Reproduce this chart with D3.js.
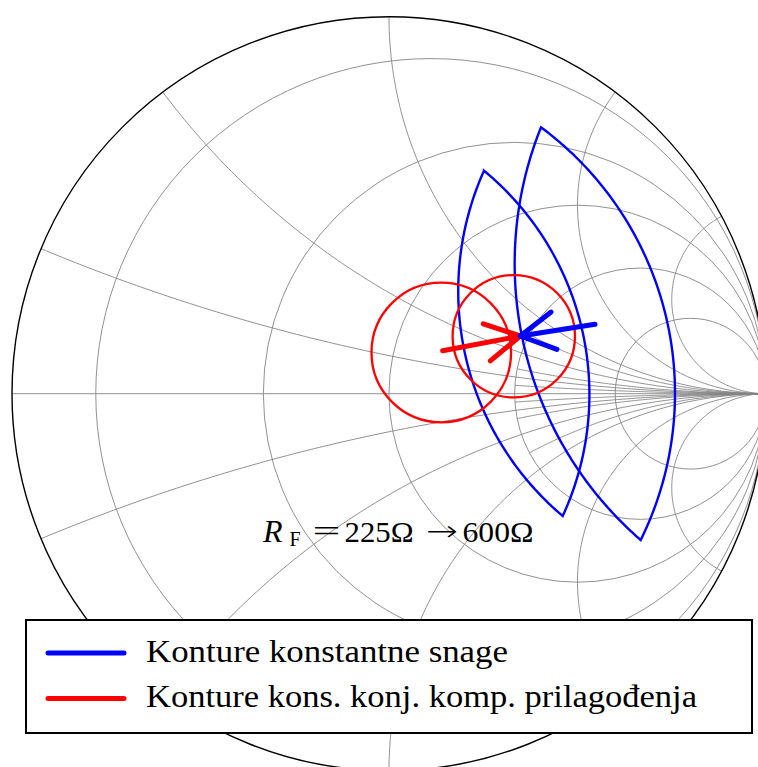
<!DOCTYPE html>
<html>
<head>
<meta charset="utf-8">
<script src="https://cdn.jsdelivr.net/npm/d3@7"></script>
<style>
  body { margin: 0; background: #fff; }
  svg { display: block; }
</style>
</head>
<body>
<svg id="chart" width="758" height="767"></svg>
<script>
// ---- Smith chart grid (normalized impedance z = r + jx) ----
const resistanceTicks = [0.125, 0.5, 1, 2, 4];
const reactanceTicks = [0.2, 0.5, 1, 2, 4];
// finer reactance lines, drawn only outside the r = 2 circle
const minorReactanceTicks = [0.1, 0.3, 0.75];
const minorReactanceFrom = 2;

// ---- constant power contours: each is a lens of two circular arcs ----
// points are reflection coefficients [Re Γ, Im Γ]
const powerTop    = [[0.252, 0.5915], [0.4032, 0.7066]];
const powerBottom = [[0.4607, -0.3244], [0.6676, -0.3881]];
const powerLeft   = [[0.1838, 0.2573], [0.3369, 0.2618]];
const powerRight  = [[0.5313, 0.0186], [0.7586, 0.0053]];

// ---- constant conjugate-match circles ----
const matchCenters = [[0.1387, 0.1093], [0.331, 0.1523]];
const matchRadii   = [0.1851, 0.1623];

// ---- shift of the optimum as R_F goes 225 Ω -> 600 Ω ----
const matchArrow = [[0.1424, 0.1141], [0.3483, 0.1531]];
const powerArrow = [[0.5464, 0.1841], [0.3483, 0.1531]];

const legendLabels = ["Konture konstantne snage", "Konture kons. konj. komp. prilagođenja"];
const legendColors = ["#0000ff", "#ff0000"];

// ---- layout ----
const cx = 389, cy = 393.7, R = 377;
const sx = d3.scaleLinear().domain([-1, 1]).range([cx - R, cx + R]);
const sy = d3.scaleLinear().domain([-1, 1]).range([cy + R, cy - R]);
const k = sx(1) - sx(0); // pixels per unit of Γ

const svg = d3.select("#chart");
const line = d3.line().x(d => sx(d[0])).y(d => sy(d[1]));
const serif = "'Liberation Serif', 'Times New Roman', serif";

function gamma(r, x) {
  const den = (r + 1) * (r + 1) + x * x;
  return [(r * r - 1 + x * x) / den, (2 * x) / den];
}

// sample a circular arc from angle a0 by delta radians
function arcPoints(c, rad, a0, delta, n = 160) {
  return d3.range(n + 1).map(i => {
    const a = a0 + delta * i / n;
    return [c[0] + rad * Math.cos(a), c[1] + rad * Math.sin(a)];
  });
}
function shortDelta(a0, a1) {
  let d = a1 - a0;
  while (d > Math.PI) d -= 2 * Math.PI;
  while (d < -Math.PI) d += 2 * Math.PI;
  return d;
}

// reactance line x, from resistance rStart to r = infinity
function reactancePath(x, rStart) {
  const c = [1, 1 / x], rad = 1 / Math.abs(x);
  const p0 = gamma(rStart, x);
  const a0 = Math.atan2(p0[1] - c[1], p0[0] - c[0]);
  const a1 = Math.atan2(0 - c[1], 1 - c[0]);
  return arcPoints(c, rad, a0, shortDelta(a0, a1));
}

const grid = svg.append("g")
  .attr("fill", "none")
  .attr("stroke", "#858585")
  .attr("stroke-width", 0.9);

// real axis
grid.append("line")
  .attr("x1", sx(-1)).attr("y1", sy(0))
  .attr("x2", sx(1)).attr("y2", sy(0));

// constant resistance circles
grid.selectAll("circle.r").data(resistanceTicks).join("circle")
  .attr("class", "r")
  .attr("cx", r => sx(r / (1 + r)))
  .attr("cy", sy(0))
  .attr("r", r => k / (1 + r));

// constant reactance arcs (both signs)
const xs = reactanceTicks.flatMap(x => [x, -x]);
grid.selectAll("path.x").data(xs).join("path")
  .attr("class", "x")
  .attr("d", x => line(reactancePath(x, 0)));

const xm = minorReactanceTicks.flatMap(x => [x, -x]);
grid.selectAll("path.xm").data(xm).join("path")
  .attr("class", "xm")
  .attr("d", x => line(reactancePath(x, minorReactanceFrom)));

// outer boundary |Γ| = 1
svg.append("circle")
  .attr("cx", sx(0)).attr("cy", sy(0)).attr("r", k)
  .attr("fill", "none").attr("stroke", "#000").attr("stroke-width", 1.4);

// ---- constant power contours ----
function circleFrom3(a, b, c) {
  const d = 2 * (a[0] * (b[1] - c[1]) + b[0] * (c[1] - a[1]) + c[0] * (a[1] - b[1]));
  const a2 = a[0] * a[0] + a[1] * a[1], b2 = b[0] * b[0] + b[1] * b[1], c2 = c[0] * c[0] + c[1] * c[1];
  const ux = (a2 * (b[1] - c[1]) + b2 * (c[1] - a[1]) + c2 * (a[1] - b[1])) / d;
  const uy = (a2 * (c[0] - b[0]) + b2 * (a[0] - c[0]) + c2 * (b[0] - a[0])) / d;
  return { c: [ux, uy], r: Math.hypot(a[0] - ux, a[1] - uy) };
}
function arcThrough(p0, pm, p1) {
  const { c, r } = circleFrom3(p0, pm, p1);
  const ang = p => Math.atan2(p[1] - c[1], p[0] - c[0]);
  const a0 = ang(p0), am = ang(pm), a1 = ang(p1);
  const tau = 2 * Math.PI, mod = v => ((v % tau) + tau) % tau;
  const d01 = mod(a1 - a0), d0m = mod(am - a0);
  const delta = d0m < d01 ? d01 : d01 - tau;
  return arcPoints(c, r, a0, delta);
}

const contours = powerTop.map((t, i) => {
  const left = arcThrough(t, powerLeft[i], powerBottom[i]);
  const right = arcThrough(powerBottom[i], powerRight[i], t);
  return left.concat(right.slice(1));
});
svg.append("g").selectAll("path").data(contours).join("path")
  .attr("d", d => line(d) + "Z")
  .attr("fill", "none")
  .attr("stroke", "#0000ff")
  .attr("stroke-width", 2.4)
  .attr("stroke-linejoin", "miter");

// ---- constant conjugate-match circles ----
svg.append("g").selectAll("circle").data(matchCenters).join("circle")
  .attr("cx", d => sx(d[0]))
  .attr("cy", d => sy(d[1]))
  .attr("r", (d, i) => k * matchRadii[i])
  .attr("fill", "none")
  .attr("stroke", "#ff0000")
  .attr("stroke-width", 2.3);

// ---- arrows ----
function drawArrow(pts, color) {
  const x0 = sx(pts[0][0]), y0 = sy(pts[0][1]);
  const x1 = sx(pts[1][0]), y1 = sy(pts[1][1]);
  const back = Math.atan2(y0 - y1, x0 - x1);
  const len = 39, spread = 29 * Math.PI / 180;
  const g = svg.append("g")
    .attr("stroke", color).attr("stroke-width", 5)
    .attr("stroke-linecap", "round").attr("fill", "none");
  g.append("line").attr("x1", x0).attr("y1", y0).attr("x2", x1).attr("y2", y1);
  [-1, 1].forEach(s => {
    g.append("line")
      .attr("x1", x1).attr("y1", y1)
      .attr("x2", x1 + len * Math.cos(back + s * spread))
      .attr("y2", y1 + len * Math.sin(back + s * spread));
  });
}
drawArrow(matchArrow, "#ff0000");
drawArrow(powerArrow, "#0000ff");

// ---- annotation: R_F = 225Ω → 600Ω, set piece by piece ----
const noteParts = [
  { t: "R",    x: 263,   w: null, size: 32, dy: 0,   italic: true },
  { t: "F",    x: 289.5, w: null, size: 20, dy: 4.5 },
  { t: "=",    x: 312.5, w: 28,   size: 29, dy: -1 },
  { t: "225Ω", x: 344.5, w: 69,   size: 29, dy: 0 },
  { t: "→",    x: 426,   w: 32,   size: 29, dy: -1, family: "'DejaVu Sans', sans-serif", weight: 200 },
  { t: "600Ω", x: 462.5, w: 71,   size: 29, dy: 0 }
];
const note = svg.append("g")
  .attr("fill", "#000");
noteParts.forEach(p => {
  const t = note.append("text")
    .attr("x", p.x).attr("y", 541.7 + p.dy)
    .attr("font-family", p.family || serif)
    .attr("font-weight", p.weight || "normal")
    .attr("font-size", p.size)
    .attr("font-style", p.italic ? "italic" : "normal")
    .text(p.t);
  if (p.w) t.attr("textLength", p.w).attr("lengthAdjust", "spacingAndGlyphs");
});

// ---- legend ----
const legend = svg.append("g");
legend.append("rect")
  .attr("x", 26).attr("y", 620).attr("width", 726).attr("height", 113)
  .attr("fill", "#fff").attr("stroke", "#000").attr("stroke-width", 2);
const rows = legend.selectAll("g.row").data(legendLabels).join("g")
  .attr("class", "row")
  .attr("transform", (d, i) => `translate(0, ${653 + 45.5 * i})`);
rows.append("line")
  .attr("x1", 48).attr("x2", 124)
  .attr("stroke", (d, i) => legendColors[i])
  .attr("stroke-width", 5).attr("stroke-linecap", "round");
rows.append("text")
  .attr("x", 146).attr("y", 8.5)
  .attr("font-family", serif)
  .attr("font-size", 31)
  .attr("textLength", (d, i) => i === 0 ? 362 : 551)
  .attr("lengthAdjust", "spacingAndGlyphs")
  .text(d => d);
</script>
</body>
</html>
